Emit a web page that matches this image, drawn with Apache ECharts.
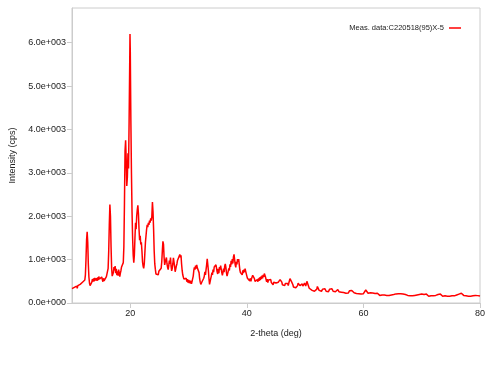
<!DOCTYPE html>
<html>
<head>
<meta charset="utf-8">
<script src="https://cdn.jsdelivr.net/npm/echarts@6/dist/echarts.min.js"></script>
<style>
  html, body { margin: 0; padding: 0; background: #fff; }
  #chart { width: 500px; height: 377px; }
</style>
</head>
<body>
<div id="chart"></div>
<script>
// XRD scan: [2-theta (deg), intensity (cps)]
var seriesName = 'Meas. data:C220518(95)X-5';
var xTicks = [20, 40, 60, 80];
var yTicks = [0, 1000, 2000, 3000, 4000, 5000, 6000];

var scanLow = [
  [10.0, 330], [10.1, 290], [10.2, 350], [10.3, 310], [10.4, 360], [10.5, 320], [10.6, 370], [10.7, 330],
  [10.8, 390], [10.9, 340], [11.0, 400], [11.1, 360], [11.2, 410], [11.3, 370], [11.4, 430], [11.5, 390],
  [11.6, 450], [11.7, 410], [11.8, 480], [11.9, 440], [12.0, 510], [12.1, 470], [12.2, 530], [12.3, 650],
  [12.4, 1000], [12.5, 1450], [12.6, 1640], [12.7, 1400], [12.8, 900], [12.9, 600], [13.0, 460], [13.1, 400],
  [13.2, 370], [13.3, 430], [13.4, 480], [13.5, 550], [13.6, 490], [13.7, 570], [13.8, 500], [13.9, 580],
  [14.0, 520], [14.1, 490], [14.2, 570], [14.3, 510], [14.4, 590], [14.5, 530], [14.6, 610], [14.7, 550],
  [14.8, 510], [14.9, 580], [15.0, 520], [15.1, 600], [15.2, 540], [15.3, 490], [15.4, 570], [15.5, 510],
  [15.6, 470], [15.7, 540], [15.8, 550], [15.9, 610], [16.0, 570], [16.1, 650], [16.2, 800], [16.3, 1200],
  [16.4, 1800], [16.5, 2270], [16.6, 2000], [16.7, 1300], [16.8, 800], [16.9, 620], [17.0, 600], [17.1, 700],
  [17.2, 830], [17.3, 750], [17.4, 850], [17.5, 690], [17.6, 790], [17.7, 640], [17.8, 730], [17.9, 630],
  [18.0, 770], [18.1, 690], [18.2, 610], [18.3, 690], [18.4, 750], [18.5, 830], [18.6, 870], [18.7, 850],
  [18.8, 930], [18.9, 1300], [19.0, 2300], [19.1, 3500], [19.2, 3750], [19.3, 3300], [19.4, 2700], [19.5, 2900],
  [19.6, 3450], [19.7, 3100], [19.8, 4200], [19.9, 5500], [19.95, 6200], [20.0, 5800], [20.1, 4200], [20.2, 3000],
  [20.3, 2100], [20.4, 1500], [20.5, 1100], [20.6, 930], [20.7, 1100], [20.8, 1500], [20.9, 1850], [21.0, 1700],
  [21.1, 2000], [21.2, 2150], [21.3, 2250], [21.4, 2050], [21.5, 1700], [21.6, 1450], [21.7, 1550], [21.8, 1350],
  [21.9, 1400], [22.0, 1200], [22.1, 950], [22.2, 850], [22.3, 800], [22.4, 900], [22.5, 1150], [22.6, 1400],
  [22.7, 1550], [22.8, 1700], [22.9, 1800], [23.0, 1750], [23.1, 1850], [23.2, 1800], [23.3, 1900], [23.4, 1850],
  [23.5, 1950], [23.6, 1900], [23.7, 2000], [23.8, 2330], [23.9, 2100], [24.0, 1700], [24.1, 1200], [24.2, 900],
  [24.3, 780], [24.4, 670], [24.5, 710], [24.6, 640], [24.7, 710], [24.8, 650], [24.9, 730], [25.0, 690],
  [25.1, 770], [25.2, 730], [25.3, 800], [25.4, 950], [25.5, 1200], [25.6, 1420], [25.7, 1350], [25.8, 1050],
  [25.9, 880], [26.0, 950], [26.1, 1000], [26.2, 1050], [26.3, 900], [26.4, 820], [26.5, 770], [26.6, 860],
  [26.7, 980], [26.8, 900], [26.9, 1050], [27.0, 850], [27.1, 740], [27.2, 800], [27.3, 900], [27.4, 1040],
  [27.5, 1000], [27.6, 850], [27.7, 720], [27.8, 780], [27.9, 850], [28.0, 900], [28.1, 980], [28.2, 960],
  [28.3, 1050], [28.4, 1080], [28.5, 1120], [28.6, 1050], [28.7, 1100], [28.8, 900], [28.9, 750], [29.0, 650],
  [29.1, 600], [29.2, 550], [29.3, 540], [29.4, 590], [29.5, 510], [29.6, 570], [29.7, 490], [29.8, 550],
  [29.9, 470], [30.0, 530]
];

var scanMid = [
  [30.1, 460], [30.2, 520], [30.3, 450], [30.4, 510], [30.5, 440], [30.6, 500], [30.7, 520], [30.8, 620],
  [30.9, 750], [31.0, 820], [31.1, 770], [31.2, 860], [31.3, 790], [31.4, 880], [31.5, 810], [31.6, 770],
  [31.7, 820], [31.8, 700], [31.9, 560], [32.0, 480], [32.1, 430], [32.2, 420], [32.3, 490], [32.4, 520],
  [32.5, 470], [32.6, 570], [32.7, 620], [32.8, 720], [32.9, 650], [33.0, 770], [33.1, 880], [33.2, 1020],
  [33.3, 980], [33.4, 750], [33.5, 560], [33.6, 430], [33.7, 440], [33.8, 560], [33.9, 620], [34.0, 700],
  [34.1, 650], [34.2, 770], [34.3, 710], [34.4, 830], [34.5, 860], [34.6, 790], [34.7, 880], [34.8, 840],
  [34.9, 720], [35.0, 670], [35.1, 790], [35.2, 690], [35.3, 830], [35.4, 770], [35.5, 860], [35.6, 820],
  [35.7, 700], [35.8, 640], [35.9, 700], [36.0, 790], [36.1, 710], [36.2, 850], [36.3, 900], [36.4, 820],
  [36.5, 700], [36.6, 620], [36.7, 640], [36.8, 730], [36.9, 800], [37.0, 750], [37.1, 890], [37.2, 830],
  [37.3, 970], [37.4, 890], [37.5, 1010], [37.6, 910], [37.7, 1060], [37.8, 1120], [37.9, 1000], [38.0, 880],
  [38.1, 820], [38.2, 950], [38.3, 890], [38.4, 1010], [38.5, 950], [38.6, 1010], [38.7, 880], [38.8, 760],
  [38.9, 700], [39.0, 670], [39.1, 730], [39.2, 650], [39.3, 750], [39.4, 690], [39.5, 770], [39.6, 710],
  [39.7, 790], [39.8, 730], [39.9, 700], [40.0, 620], [40.1, 570], [40.2, 610], [40.3, 530], [40.4, 590],
  [40.5, 510], [40.6, 570], [40.7, 500], [40.8, 560], [40.9, 600], [41.0, 640], [41.1, 680], [41.2, 620],
  [41.3, 560], [41.4, 500], [41.5, 470], [41.6, 530], [41.7, 460], [41.8, 540], [41.9, 490], [42.0, 570],
  [42.1, 510], [42.2, 590], [42.3, 530], [42.4, 610], [42.5, 550], [42.6, 630], [42.7, 570], [42.8, 650],
  [42.9, 600], [43.0, 680], [43.1, 640], [43.2, 600], [43.3, 540], [43.4, 490], [43.5, 550], [43.6, 470],
  [43.7, 530], [43.8, 490], [43.9, 550], [44.0, 490], [44.1, 540], [44.2, 470], [44.3, 440], [44.4, 490],
  [44.5, 420], [44.6, 480], [44.7, 500], [44.8, 450], [44.9, 510], [45.0, 460], [45.1, 430], [45.2, 490],
  [45.3, 430], [45.4, 480], [45.5, 440], [45.6, 500], [45.7, 540], [45.8, 580], [45.9, 560], [46.0, 480],
  [46.1, 420], [46.2, 460], [46.3, 410], [46.4, 450], [46.5, 400], [46.6, 450], [46.7, 410], [46.8, 460],
  [46.9, 410], [47.0, 450], [47.1, 400], [47.2, 460], [47.3, 500], [47.4, 560], [47.5, 540], [47.6, 520],
  [47.7, 480], [47.8, 440], [47.9, 420], [48.0, 370], [48.1, 410], [48.2, 360], [48.3, 400], [48.4, 350],
  [48.5, 390], [48.6, 350], [48.7, 400], [48.8, 460], [48.9, 440], [49.0, 480], [49.1, 400], [49.2, 370],
  [49.3, 430], [49.4, 370], [49.5, 440], [49.6, 390], [49.7, 370], [49.8, 430], [49.9, 460], [50.0, 430],
  [50.1, 390], [50.2, 440], [50.3, 500], [50.4, 480], [50.5, 420], [50.6, 380], [50.7, 340], [50.8, 370],
  [50.9, 310], [51.0, 350]
];

var scanHigh = [
  [51.2, 290], [51.4, 330], [51.6, 270], [51.8, 310], [52.0, 320], [52.1, 380], [52.2, 340], [52.4, 290],
  [52.6, 330], [52.8, 270], [53.0, 320], [53.2, 280], [53.4, 330], [53.6, 270], [53.8, 310], [54.0, 260],
  [54.2, 320], [54.4, 280], [54.6, 330], [54.8, 270], [55.0, 310], [55.2, 260], [55.4, 300], [55.6, 310],
  [55.8, 260], [56.0, 300], [56.2, 250], [56.4, 290], [56.6, 240], [56.8, 280], [57.0, 225], [57.2, 270],
  [57.4, 230], [57.6, 280], [57.8, 240], [58.0, 290], [58.2, 250], [58.4, 235], [58.6, 270], [58.8, 220],
  [59.0, 260], [59.2, 215], [59.4, 250], [59.6, 205], [59.8, 240], [60.0, 215], [60.2, 250], [60.4, 300],
  [60.6, 270], [60.8, 225], [61.0, 210], [61.2, 235], [61.4, 195], [61.6, 230], [61.8, 185], [62.0, 220],
  [62.2, 185], [62.4, 225], [62.6, 195], [62.8, 175], [63.0, 215], [63.2, 185], [63.4, 225], [63.6, 185],
  [63.8, 215], [64.0, 175], [64.2, 210], [64.4, 175], [64.6, 215], [64.8, 185], [65.0, 225], [65.2, 195],
  [65.4, 175], [65.6, 210], [65.8, 175], [66.0, 215], [66.2, 185], [66.4, 215], [66.6, 175], [66.8, 205],
  [67.0, 165], [67.2, 195], [67.4, 210], [67.6, 175], [67.8, 205], [68.0, 165], [68.2, 195], [68.4, 165],
  [68.6, 205], [68.8, 175], [69.0, 215], [69.2, 185], [69.4, 220], [69.6, 195], [69.8, 175], [70.0, 205],
  [70.2, 165], [70.4, 195], [70.6, 165], [70.8, 205], [71.0, 175], [71.2, 155], [71.4, 195], [71.6, 165],
  [71.8, 195], [72.0, 165], [72.2, 205], [72.4, 175], [72.6, 155], [72.8, 195], [73.0, 165], [73.2, 205],
  [73.4, 175], [73.6, 155], [73.8, 195], [74.0, 165], [74.2, 195], [74.4, 155], [74.6, 185], [74.8, 155],
  [75.0, 185], [75.2, 165], [75.4, 195], [75.6, 165], [75.8, 205], [76.0, 185], [76.2, 225], [76.4, 205],
  [76.6, 250], [76.8, 225], [77.0, 205], [77.2, 175], [77.4, 205], [77.6, 165], [77.8, 195], [78.0, 155],
  [78.2, 185], [78.4, 155], [78.6, 190], [78.8, 165], [79.0, 145], [79.2, 175], [79.4, 145], [79.6, 170],
  [79.8, 145], [80.0, 160]
];

var scan = scanLow.concat(scanMid, scanHigh);

// 6.0e+003 style labels
function sciLabel(v) {
  if (v === 0) return '0.0e+000';
  var exp = Math.floor(Math.log10(Math.abs(v)));
  var mant = v / Math.pow(10, exp);
  var e = String(Math.abs(exp));
  while (e.length < 3) e = '0' + e;
  return mant.toFixed(1) + 'e' + (exp < 0 ? '-' : '+') + e;
}

var chart = echarts.init(document.getElementById('chart'));
var axisGray = '#cccccc';
var font = 'Arial, "Liberation Sans", sans-serif';

chart.setOption({
  animation: false,
  backgroundColor: '#fff',
  grid: {
    left: 72, right: 20, top: 8, bottom: 74,
    show: true, borderColor: axisGray, borderWidth: 1
  },
  legend: {
    data: [seriesName],
    right: 34, top: 19,
    align: 'right',
    icon: 'rect',
    itemWidth: 12, itemHeight: 1.5,
    textStyle: { fontSize: 7.5, color: '#222', fontFamily: font }
  },
  xAxis: {
    type: 'value',
    min: 10, max: 80,
    name: '2-theta (deg)',
    nameLocation: 'middle',
    nameGap: 26,
    nameTextStyle: { fontSize: 9, color: '#222', fontFamily: font },
    axisLine: { lineStyle: { color: axisGray } },
    axisTick: { show: true, length: 5, customValues: xTicks, lineStyle: { color: axisGray } },
    axisLabel: { customValues: xTicks, margin: 6, fontSize: 9, color: '#222', fontFamily: font },
    splitLine: { show: false }
  },
  yAxis: {
    type: 'value',
    min: 0, max: 6800,
    name: 'Intensity (cps)',
    nameLocation: 'middle',
    nameGap: 51,
    nameTextStyle: { fontSize: 9, color: '#222', fontFamily: font },
    axisLine: { show: true, lineStyle: { color: axisGray } },
    axisTick: { show: true, length: 5, customValues: yTicks, lineStyle: { color: axisGray } },
    axisLabel: { customValues: yTicks, margin: 6, fontSize: 9, color: '#222', fontFamily: font, formatter: sciLabel },
    splitLine: { show: false }
  },
  series: [{
    name: seriesName,
    type: 'line',
    data: scan,
    showSymbol: false,
    symbol: 'none',
    sampling: false,
    lineStyle: { color: '#ff0000', width: 1.5 },
    itemStyle: { color: '#ff0000' }
  }]
});
</script>
</body>
</html>
